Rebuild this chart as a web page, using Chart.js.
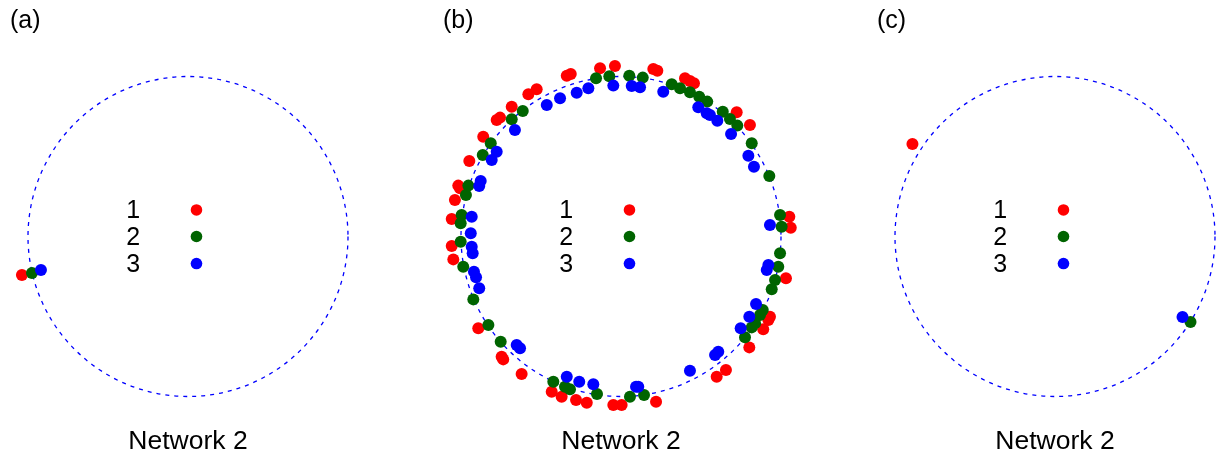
<!DOCTYPE html>
<html><head><meta charset="utf-8">
<script src="https://cdn.jsdelivr.net/npm/chart.js@4.4.0/dist/chart.umd.min.js"></script>
<style>
html,body{margin:0;padding:0;background:#fff;overflow:hidden;width:1218px;height:459px;}
.panel{position:absolute;top:0;width:360px;height:459px;}
canvas{display:block;}
</style></head><body>
<div class="panel" style="left:8px"><canvas id="ca" width="360" height="459"></canvas></div>
<div class="panel" style="left:441px"><canvas id="cb" width="360" height="459"></canvas></div>
<div class="panel" style="left:875px"><canvas id="cc" width="360" height="459"></canvas></div>
<script>
// ---- data (unit-circle coordinates) ----
const panelLabels = ['(a)', '(b)', '(c)'];
const networkLabel = 'Network 2';
const seriesNames = ['1', '2', '3'];
const seriesColors = ['#ff0000', '#006400', '#0000ff'];
const ringRadius = 1;

const a1x = [-1.038], a1y = [-0.241];
const a2x = [-0.975], a2y = [-0.228];
const a3x = [-0.919], a3y = [-0.209];

const b1x = [-0.339,-0.314,-0.131,-0.038,0.202,0.227,0.400,0.431,0.456,0.723,0.806,1.052,1.061,1.031,0.931,0.921,0.889,0.802,0.656,0.598,0.219,0.004,-0.048,-0.214,-0.281,-0.371,-0.433,-0.621,-0.736,-0.746,-0.892,-1.048,-1.058,-1.058,-1.038,-1.017,-1.006,-0.948,-0.861,-0.777,-0.756,-0.683,-0.579,-0.527];
const b1y = [1.005,1.016,1.051,1.066,1.047,1.036,0.989,0.972,0.958,0.776,0.697,0.124,0.055,-0.261,-0.501,-0.522,-0.580,-0.693,-0.834,-0.876,-1.033,-1.053,-1.053,-1.039,-1.022,-1.001,-0.970,-0.859,-0.768,-0.751,-0.574,-0.143,-0.059,0.109,0.228,0.318,0.301,0.472,0.624,0.728,0.743,0.811,0.889,0.920];
const b2x = [-0.156,-0.073,0.052,0.136,0.317,0.369,0.431,0.489,0.539,0.636,0.681,0.727,0.817,0.927,0.994,1.004,0.994,0.983,0.963,0.942,0.886,0.869,0.838,0.817,0.775,0.144,0.056,-0.150,-0.319,-0.350,-0.423,-0.752,-0.829,-0.923,-0.986,-1.002,-1.002,-0.996,-0.969,-0.954,-0.864,-0.814,-0.683,-0.614];
const b2y = [0.989,1.002,1.005,0.993,0.951,0.926,0.901,0.874,0.843,0.780,0.734,0.693,0.583,0.378,0.134,0.061,-0.105,-0.189,-0.272,-0.330,-0.459,-0.491,-0.543,-0.568,-0.630,-0.991,-1.001,-0.984,-0.955,-0.939,-0.908,-0.658,-0.553,-0.393,-0.189,-0.033,0.083,0.134,0.259,0.318,0.509,0.583,0.733,0.784];
const b3x = [-0.048,-0.204,-0.277,-0.381,-0.464,-0.663,-0.777,-0.808,-0.877,-0.886,-0.933,-0.939,-0.933,-0.927,-0.919,-0.906,-0.886,-0.652,-0.631,-0.339,-0.261,-0.173,0.094,0.108,0.431,0.588,0.608,0.748,0.802,0.844,0.911,0.921,0.931,0.831,0.796,0.688,0.602,0.556,0.536,0.483,0.264,0.119,0.067];
const b3y = [0.943,0.926,0.899,0.864,0.822,0.666,0.530,0.478,0.347,0.316,0.124,0.020,-0.064,-0.105,-0.220,-0.255,-0.324,-0.678,-0.699,-0.876,-0.908,-0.924,-0.939,-0.939,-0.839,-0.741,-0.720,-0.574,-0.501,-0.422,-0.209,-0.178,0.072,0.436,0.505,0.641,0.724,0.759,0.770,0.808,0.905,0.933,0.941];

const c1x = [-0.891], c1y = [0.578];
const c2x = [0.847],  c2y = [-0.534];
const c3x = [0.797],  c3y = [-0.503];

// ---- drawing ----
const FONT = '"Liberation Sans", Arial, Helvetica, sans-serif';
const zip = (xs, ys) => xs.map((x, i) => ({x: x, y: ys[i]}));

const ringPlugin = {
  id: 'ring',
  beforeDatasetsDraw(chart) {
    const {ctx, scales: {x, y}} = chart;
    const cx = x.getPixelForValue(0), cy = y.getPixelForValue(0);
    const r = x.getPixelForValue(ringRadius) - cx;
    ctx.save();
    ctx.beginPath();
    ctx.arc(cx, cy, r, 0, Math.PI * 2);
    ctx.setLineDash([4, 5]);
    ctx.lineWidth = 1.3;
    ctx.strokeStyle = '#0000ff';
    ctx.stroke();
    ctx.restore();
  }
};

const textPlugin = {
  id: 'texts',
  afterDraw(chart) {
    const {ctx, scales: {x, y}} = chart;
    const o = chart.options.plugins.texts;
    ctx.save();
    ctx.fillStyle = '#000';
    // panel label
    ctx.font = '25px ' + FONT;
    ctx.textAlign = 'left';
    ctx.textBaseline = 'alphabetic';
    ctx.fillText(o.panel, chart.chartArea.left + 2, 28);
    // legend
    seriesNames.forEach((name, i) => {
      const ry = y.getPixelForValue(o.legendY[i]);
      ctx.fillStyle = '#000';
      ctx.font = '25px ' + FONT;
      ctx.textAlign = 'center';
      ctx.fillText(name, x.getPixelForValue(o.legendTextX), ry + 8.5);
      ctx.beginPath();
      ctx.arc(x.getPixelForValue(o.legendDotX), ry, 5.8, 0, Math.PI * 2);
      ctx.fillStyle = seriesColors[i];
      ctx.fill();
    });
    // bottom label
    ctx.fillStyle = '#000';
    ctx.font = '26.5px ' + FONT;
    ctx.textAlign = 'center';
    ctx.fillText(networkLabel, x.getPixelForValue(0), 449.3);
    ctx.restore();
  }
};

function makeChart(id, panel, sets) {
  new Chart(document.getElementById(id), {
    type: 'scatter',
    data: {
      datasets: sets.map((s, i) => ({
        label: seriesNames[i],
        data: zip(s[0], s[1]),
        pointRadius: 6,
        pointHoverRadius: 6,
        pointBorderWidth: 0,
        pointBackgroundColor: seriesColors[i],
        pointBorderColor: seriesColors[i],
        order: 3 - i,
        clip: false
      }))
    },
    options: {
      responsive: false,
      animation: false,
      events: [],
      layout: {padding: 0, autoPadding: false},
      scales: {
        x: {type: 'linear', min: -1.125, max: 1.125, display: false},
        y: {type: 'linear', min: -1.390625, max: 1.478125, display: false}
      },
      plugins: {
        legend: {display: false},
        tooltip: {enabled: false},
        texts: {panel: panel, legendTextX: -0.342, legendDotX: 0.053, legendY: [0.166, 0.0, -0.169]}
      }
    },
    plugins: [ringPlugin, textPlugin]
  });
}

makeChart('ca', panelLabels[0], [[a1x, a1y], [a2x, a2y], [a3x, a3y]]);
makeChart('cb', panelLabels[1], [[b1x, b1y], [b2x, b2y], [b3x, b3y]]);
makeChart('cc', panelLabels[2], [[c1x, c1y], [c2x, c2y], [c3x, c3y]]);
</script>
</body></html>
